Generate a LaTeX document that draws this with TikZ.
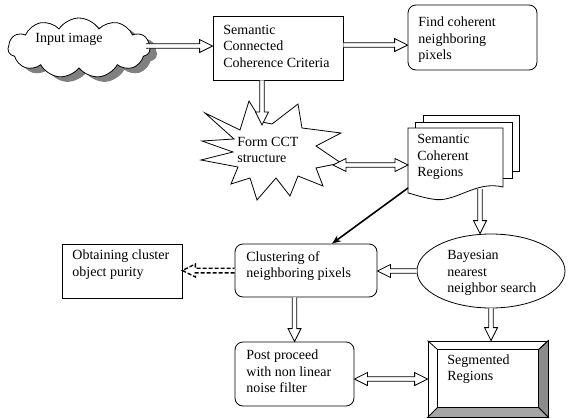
\documentclass[tikz,border=0pt]{standalone}
\usepackage{fontspec}
\setmainfont{Liberation Serif}
\usetikzlibrary{shapes.geometric,shapes.symbols,calc,arrows.meta,shadows}

\def\basw{2.3pt}\def\bahw{6.5pt}\def\bahl{13pt}

% hollow block arrow from #2 to #3
\newcommand\barr[3][]{%
  \path (#2) coordinate (ba1) (#3) coordinate (ba2);
  \path ($(ba2)!\bahl!(ba1)$) coordinate (bah);
  \draw[blockarr,#1] ($(ba1)!\basw!90:(ba2)$) -- ($(bah)!\basw!-90:(ba1)$) -- ($(bah)!\bahw!-90:(ba1)$) -- (ba2) -- ($(bah)!\bahw!90:(ba1)$) -- ($(bah)!\basw!90:(ba1)$) -- ($(ba1)!\basw!-90:(ba2)$);
}
% hollow double-headed block arrow
\newcommand\dbarr[3][]{%
  \path (#2) coordinate (ba1) (#3) coordinate (ba2);
  \path ($(ba2)!\bahl!(ba1)$) coordinate (bah2) ($(ba1)!\bahl!(ba2)$) coordinate (bah1);
  \draw[blockarr,#1] (ba1) -- ($(bah1)!\bahw!90:(ba2)$) -- ($(bah1)!\basw!90:(ba2)$) -- ($(bah2)!\basw!-90:(ba1)$) -- ($(bah2)!\bahw!-90:(ba1)$) -- (ba2) -- ($(bah2)!\bahw!90:(ba1)$) -- ($(bah2)!\basw!90:(ba1)$) -- ($(bah1)!\basw!-90:(ba2)$) -- ($(bah1)!\bahw!-90:(ba2)$) -- cycle;
}

\begin{document}
\begin{tikzpicture}[x=1pt,y=-1pt,line width=0.8pt,
  txt/.style={font=\fontsize{14}{16.5}\selectfont, align=left, inner sep=0pt, anchor=west},
  box/.style={draw, fill=white, inner sep=0pt},
  rbox/.style={box, rounded corners=8pt},
  blockarr/.style={draw, fill=white, line join=miter},
  dasharr/.style={dashed, dash pattern=on 4pt off 2pt, line width=1.4pt},
  blackarr/.style={line width=1.6pt, -{Stealth[length=9pt,width=7pt]}},
]
\useasboundingbox (0,0) rectangle (568,418);
\fill[white] (0,0) rectangle (568,418);

% cloud
\node[cloud, cloud puffs=11, cloud puff arc=115, cloud ignores aspect, draw, fill=white,
      minimum width=142pt, minimum height=60pt, inner sep=0pt,
      drop shadow={shadow xshift=7pt, shadow yshift=-5pt, fill=black!50, opacity=1}] (cloud) at (79,48) {};
\node[txt] (cloudtext) at (35,39) {Input image};

% box 1
\node[box, minimum width=130pt, minimum height=64pt] (box1) at (278,48) {};
\node[txt] (box1text) at (223,46) {Semantic\\Connected\\Coherence Criteria};

% find coherent
\node[rbox, minimum width=129pt, minimum height=65pt] (find) at (472.5,37.5) {};
\node[txt] (findtext) at (418,40) {Find coherent\\neighboring\\pixels};

% starburst
\draw[fill=white, line join=miter] (205,113) -- (240,130) -- (249,101) -- (262,122) -- (272,124) -- (298,104) -- (302,128) -- (341,133) -- (316,146) -- (341,163) -- (316,168) -- (323,186) -- (298,176) -- (290,196) -- (276,178) -- (257,200) -- (250,178) -- (231,184) -- (238,167) -- (201,160) -- (233,152) -- (202,141) -- (234,139) -- cycle;
\node[txt] (startext) at (237,150) {Form CCT\\structure};
\coordinate (starT) at (262,125);
\coordinate (starE) at (333,165);

% multi document
\draw[fill=white] (423,115) rectangle (519,171);
\draw[fill=white] (415,122) rectangle (512,178);
\draw[fill=white] (408,128) -- (503,128) -- (503,187) .. controls (475,180) and (455,204) .. (432,199) .. controls (420,197) and (413,194) .. (408,193) -- cycle;
\node[txt] (doctext) at (417,157) {Semantic\\Coherent\\Regions};
\coordinate (docL) at (408,165);
\coordinate (docB) at (480,189);
\coordinate (docLL) at (408,188);

% ellipse
\node[ellipse, draw, fill=white, minimum width=148pt, minimum height=74pt, inner sep=0pt] (bayes) at (491,271) {};
\node[txt] (bayestext) at (447,273) {Bayesian\\nearest\\neighbor search};

% clustering
\node[rbox, minimum width=142pt, minimum height=53pt] (clust) at (306,270.5) {};
\node[txt] (clusttext) at (246,266) {Clustering of\\neighboring pixels};

% obtaining
\node[box, minimum width=120pt, minimum height=54pt] (obt) at (122,271) {};
\node[txt] (obttext) at (72,264.5) {Obtaining cluster\\object purity};

% post
\node[rbox, minimum width=119pt, minimum height=64pt] (post) at (294.5,374) {};
\node[txt] (posttext) at (246,371.5) {Post proceed\\with non linear\\noise filter};

% segmented (bevel)
\node[box, minimum width=120pt, minimum height=76pt] (seg) at (488,379) {};
\coordinate (sNW) at ($(seg.north west)+(10,9)$);
\coordinate (sNE) at ($(seg.north east)+(-10,9)$);
\coordinate (sSW) at ($(seg.south west)+(10,-10)$);
\coordinate (sSE) at ($(seg.south east)+(-10,-10)$);
\draw[fill=black!45] (seg.north east) -- (seg.south east) -- (sSE) -- (sNE) -- cycle;
\draw[fill=black!35] (seg.south west) -- (seg.south east) -- (sSE) -- (sSW) -- cycle;
\draw (seg.north west) -- (sNW) (seg.north east) -- (sNE);
\draw (sNW) rectangle (sSE);
\node[txt] (segtext) at (447,369) {Segmented\\Regions};

% connectors
\coordinate (c1) at (146,46);
\barr{c1}{c1 -| box1.west}
\coordinate (c2) at ($(box1.east)+(0,-3)$);
\barr{c2}{c2 -| find.west}
\coordinate (c3) at (box1.south -| starT);
\barr{c3}{starT}
\dbarr{starE}{docL}
\barr{docB}{docB |- bayes.north}
\draw[blackarr] (docLL) -- ($(clust.north)+(26,0)$);
\barr{bayes.west}{bayes.west -| clust.east}
\barr[dasharr]{clust.west}{clust.west -| obt.east}
\coordinate (c4) at (post.north |- clust.south);
\barr{c4}{post.north}
\barr{bayes.south}{bayes.south |- seg.north}
\coordinate (c5) at (post.east |- seg.west);
\dbarr{c5}{seg.west}
\end{tikzpicture}
\end{document}
